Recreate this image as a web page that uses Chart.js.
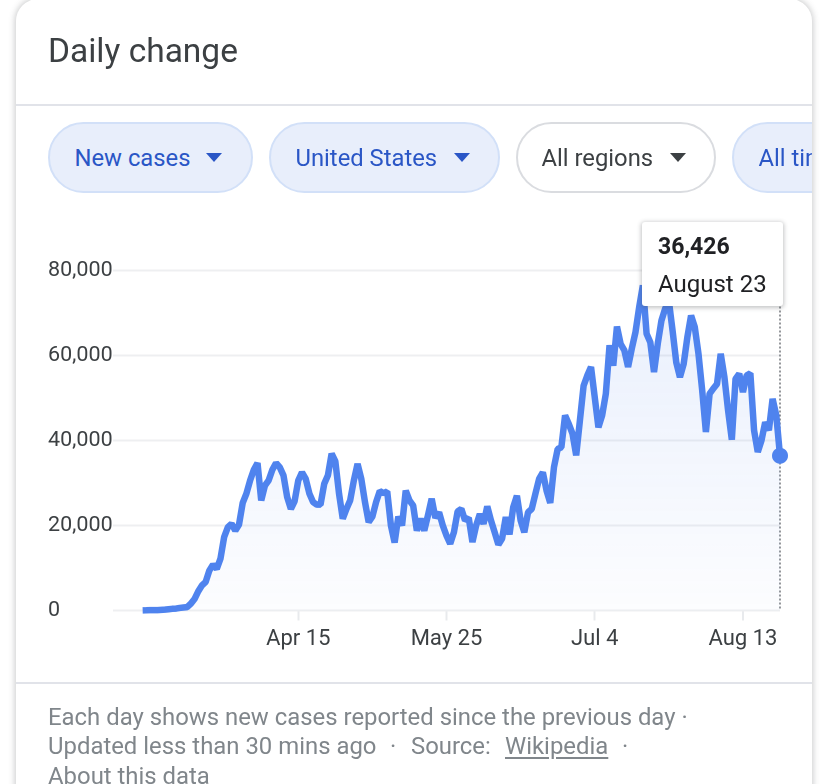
<!DOCTYPE html>
<html><head><meta charset="utf-8">
<script src="https://cdn.jsdelivr.net/npm/chart.js@4"></script>
<style>
html,body{margin:0;padding:0;background:#fff;width:828px;height:784px;overflow:hidden;font-family:Roboto,sans-serif}
#card{position:absolute;left:16px;top:-1px;width:796px;height:830px;background:#fff;border-radius:22px;box-shadow:0 0 6px 1px rgba(60,64,67,.28);overflow:hidden}
#chart{position:absolute;left:0;top:0}
.abs{position:absolute}
.title{left:48px;top:33px;font-size:33.5px;line-height:36px;color:#3c4043}
.div{left:16px;width:796px;height:2px;background:#e1e3e9}
#clip{position:absolute;left:16px;top:0;width:796px;height:784px;overflow:hidden}
.chip{position:absolute;top:122px;height:71px;box-sizing:border-box;border-radius:36px;border:2px solid #d2e0f8;background:#e8eefb;color:#2a56c6;font-size:23.8px;line-height:69px;white-space:nowrap;padding-left:24.5px}
.chip.off{background:#fff;border-color:#dadce0;color:#3c4043;padding-left:23.5px}
.chip i{position:absolute;top:29px;width:0;height:0;border-left:8.5px solid transparent;border-right:8.5px solid transparent;border-top:9px solid #2a56c6}
.chip.off i{border-top-color:#3c4043}
#tip{position:absolute;left:642px;top:222px;width:141px;height:84px;background:#fff;border-radius:3px;box-shadow:0 1px 4px 1px rgba(60,64,67,.3);color:#202124}
#tip b{position:absolute;left:16px;top:11px;font-size:23px;line-height:28px;font-weight:700}
#tip span{position:absolute;left:16px;top:48px;font-size:24px;line-height:28px}
.foot{left:48px;font-size:23.9px;line-height:29px;color:#80868b;white-space:nowrap}
.foot u{text-underline-offset:3px}
</style></head><body>
<div id="card"></div>
<canvas id="chart" width="828" height="784" style="width:828px;height:784px"></canvas>
<div class="abs title">Daily change</div>
<div class="abs div" style="top:104px"></div>
<div id="clip">
<div class="chip" style="left:32px;width:205px">New cases<i style="left:156px"></i></div>
<div class="chip" style="left:253px;width:231px">United States<i style="left:183px"></i></div>
<div class="chip off" style="left:500px;width:200px">All regions<i style="left:152px"></i></div>
<div class="chip" style="left:716px;width:200px">All time</div>
</div>
<div id="tip"><b>36,426</b><span>August 23</span></div>
<div class="abs div" style="top:682px"></div>
<div class="abs foot" style="top:702.5px">Each day shows new cases reported since the previous day ·</div>
<div class="abs foot" style="top:732px">Updated less than 30 mins ago</div>
<div class="abs foot" style="top:732px;left:390px">·</div>
<div class="abs foot" style="top:732px;left:411px">Source:</div>
<div class="abs foot" style="top:732px;left:505px"><u>Wikipedia</u></div>
<div class="abs foot" style="top:732px;left:622px">·</div>
<div class="abs foot" style="top:761.5px">About this data</div>
<script>
const firstDay = [2020, 1, 25];
const leadingEmptyDays = 8;
const newCases = [
30,50,80,100,100,150,200,300,400,450,600,700,800,
1600,2700,4500,5900,6700,9400,10800,9800,12200,17300,19600,20400,18800,20200,25300,27500,30600,33100,34700,
25900,29400,30600,33100,34700,33700,31800,26700,23900,25700,30600,32500,31000,27500,25500,24900,24900,29800,31800,36900,35100,27500,21600,23900,25900,30600,34500,
31000,25500,20800,22100,25500,28100,27600,28000,20000,16000,22100,20000,28200,25900,24700,18800,21600,18800,22400,26300,21800,23100,20000,17600,15700,18400,23300,23900,21200,21800,16100,20000,22700,20400,24500,21200,18400,15500,16900,22000,17900,24300,27000,21200,18400,23100,23900,27500,31000,32500,28200,25300,33700,38000,
38400,45900,43900,41600,36500,44700,52900,55300,57300,50200,43100,45900,51000,62400,57600,66800,62700,61200,57300,61600,65500,71400,76500,65100,63100,56100,62700,68200,71000,72900,65900,58400,54900,58000,64300,69400,66700,60400,51800,42000,51000,52200,53300,60400,54900,47000,40200,54500,55700,51400,55300,55800,42400,37300,40000,44300,42400,49800,45900,36426
];
const yTicks = [0, 20000, 40000, 60000, 80000];
const xTickLabels = ['Apr 15', 'May 25', 'Jul 4', 'Aug 13'];

const months = ['Jan','Feb','Mar','Apr','May','Jun','Jul','Aug','Sep','Oct','Nov','Dec'];
const labels = [];
for (let i = 0; i < leadingEmptyDays + newCases.length; i++) {
  const d = new Date(firstDay[0], firstDay[1], firstDay[2] + i);
  labels.push(months[d.getMonth()] + ' ' + d.getDate());
}
const series = Array(leadingEmptyDays).fill(null).concat(newCases);
const lastIndex = series.length - 1;

const hoverLine = {
  id: 'hoverLine',
  beforeDatasetsDraw(chart) {
    const x = chart.scales.x.getPixelForValue(lastIndex), c = chart.ctx;
    c.save();
    c.strokeStyle = '#70757a'; c.lineWidth = 1.5; c.setLineDash([2, 2]);
    c.beginPath(); c.moveTo(x, chart.chartArea.top); c.lineTo(x, chart.chartArea.bottom); c.stroke();
    c.restore();
  }
};

new Chart(document.getElementById('chart'), {
  type: 'line',
  plugins: [hoverLine],
  data: { labels, datasets: [{
    data: series,
    borderColor: '#4f83ee',
    borderWidth: 6.5,
    borderJoinStyle: 'bevel',
    tension: 0,
    clip: false,
    fill: 'origin',
    backgroundColor(ctx) {
      const a = ctx.chart.chartArea;
      if (!a) return 'rgba(79,131,238,.1)';
      const g = ctx.chart.ctx.createLinearGradient(0, a.top, 0, a.bottom);
      g.addColorStop(0, 'rgba(79,131,238,.13)');
      g.addColorStop(1, 'rgba(79,131,238,.015)');
      return g;
    },
    pointRadius: c => c.dataIndex === lastIndex ? 8 : 0,
    pointBackgroundColor: '#4f83ee',
    pointBorderWidth: 0
  }]},
  options: {
    responsive: false, animation: false, devicePixelRatio: 2,
    layout: { padding: { left: 48, right: 48, top: 270.5, bottom: 0 } },
    plugins: { legend: { display: false }, tooltip: { enabled: false } },
    scales: {
      x: {
        type: 'category', offset: false,
        grid: { drawOnChartArea: false, tickLength: 10, tickColor: '#e8eaed', tickWidth: 2, drawTicks: true },
        border: { display: false },
        afterBuildTicks(s) { s.ticks = s.ticks.filter(t => xTickLabels.includes(labels[t.value])); },
        afterFit(s) { s.height = 173.5; },
        ticks: { autoSkip: false, maxRotation: 0, color: '#3c4043', padding: 6,
          font: { family: 'Roboto', size: 22 },
          callback(v) { return labels[v]; } }
      },
      y: {
        min: 0, max: 80000,
        afterBuildTicks(s) { s.ticks = yTicks.map(v => ({ value: v })); },
        afterFit(s) { s.width = 65; },
        grid: { color: '#eeeff1', lineWidth: 2, drawTicks: false },
        border: { display: false },
        ticks: { color: '#3c4043', padding: 0, crossAlign: 'far', font: { family: 'Roboto', size: 21.5 },
          callback: v => v.toLocaleString('en-US') }
      }
    }
  }
});
</script>
</body></html>
